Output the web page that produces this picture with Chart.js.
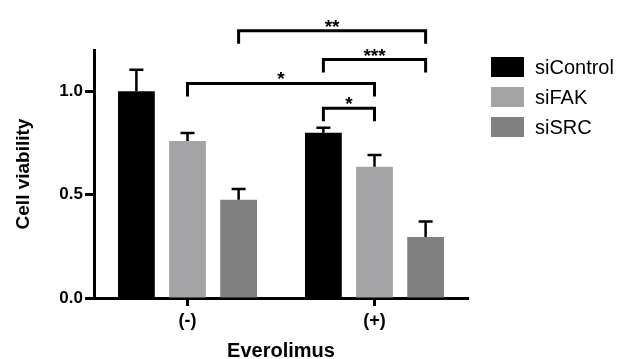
<!DOCTYPE html>
<html><head><meta charset="utf-8">
<script src="https://cdn.jsdelivr.net/npm/chart.js@4.4.1/dist/chart.umd.min.js"></script>
<style>html,body{margin:0;padding:0;background:#fff}#wrap{width:617px;height:359px;position:relative}</style>
</head><body><div id="wrap"><canvas id="c"></canvas></div>
<script>
// ---- data ----
const categories = ['(-)', '(+)'];
const seriesNames = ['siControl', 'siFAK', 'siSRC'];
const siControl = [1.00, 0.80];
const siFAK = [0.76, 0.635];
const siSRC = [0.475, 0.295];
const siControlErr = [0.105, 0.024];
const siFAKErr = [0.038, 0.057];
const siSRCErr = [0.053, 0.075];
const yTickValues = [0, 0.5, 1.0];
const xTitle = 'Everolimus';
const yTitle = 'Cell viability';
// significance brackets: [series, category] endpoints, level in data units
const bracketFrom = [[2, 0], [0, 1], [1, 0], [0, 1]];
const bracketTo = [[2, 1], [2, 1], [1, 1], [1, 1]];
const bracketLevel = [1.293, 1.154, 1.038, 0.918];
const bracketLabel = ['**', '***', '*', '*'];

// ---- styles ----
const colors = ['#000000', '#a4a4a7', '#808080'];
const errs = [siControlErr, siFAKErr, siSRCErr];
const FONT = "'Liberation Sans', Arial, Helvetica, sans-serif";

const errorBarPlugin = {
  id: 'errorBars',
  afterDatasetsDraw(chart) {
    const ctx = chart.ctx, y = chart.scales.y;
    ctx.save();
    ctx.strokeStyle = '#000';
    ctx.lineWidth = 2.5;
    chart.data.datasets.forEach((ds, di) => {
      const meta = chart.getDatasetMeta(di);
      meta.data.forEach((bar, i) => {
        const top = y.getPixelForValue(ds.data[i] + errs[di][i]);
        const base = y.getPixelForValue(ds.data[i]);
        ctx.beginPath();
        ctx.moveTo(bar.x, base);
        ctx.lineTo(bar.x, top);
        ctx.moveTo(bar.x - 7, top);
        ctx.lineTo(bar.x + 7, top);
        ctx.stroke();
      });
    });
    ctx.restore();
  }
};

const bracketPlugin = {
  id: 'brackets',
  afterDraw(chart) {
    const ctx = chart.ctx, y = chart.scales.y;
    ctx.save();
    ctx.strokeStyle = '#000';
    ctx.fillStyle = '#000';
    ctx.lineWidth = 3;
    ctx.lineJoin = 'miter';
    ctx.font = 'bold 19px ' + FONT;
    ctx.textAlign = 'center';
    ctx.textBaseline = 'alphabetic';
    bracketLevel.forEach((lv, k) => {
      const a = chart.getDatasetMeta(bracketFrom[k][0]).data[bracketFrom[k][1]];
      const b = chart.getDatasetMeta(bracketTo[k][0]).data[bracketTo[k][1]];
      const py = y.getPixelForValue(lv);
      ctx.beginPath();
      ctx.moveTo(a.x, py + 13);
      ctx.lineTo(a.x, py);
      ctx.lineTo(b.x, py);
      ctx.lineTo(b.x, py + 13);
      ctx.stroke();
      ctx.fillText(bracketLabel[k], (a.x + b.x) / 2, py + 2);
    });
    ctx.restore();
  }
};

const legendPlugin = {
  id: 'customLegend',
  afterDraw(chart) {
    const ctx = chart.ctx;
    ctx.save();
    ctx.font = '20px ' + FONT;
    ctx.textAlign = 'left';
    ctx.textBaseline = 'middle';
    chart.data.datasets.forEach((ds, i) => {
      const top = 57 + i * 30;
      ctx.fillStyle = ds.backgroundColor;
      ctx.fillRect(491, top, 33, 20);
      ctx.fillStyle = '#000';
      ctx.fillText(ds.label, 535, top + 11);
    });
    ctx.restore();
  }
};

new Chart(document.getElementById('c'), {
  type: 'bar',
  data: {
    labels: categories,
    datasets: [siControl, siFAK, siSRC].map((d, i) => ({
      label: seriesNames[i],
      data: d,
      backgroundColor: colors[i],
      borderWidth: 0,
      barPercentage: 0.72,
      categoryPercentage: 0.82
    }))
  },
  options: {
    responsive: true,
    maintainAspectRatio: false,
    animation: false,
    layout: { padding: { top: 50, right: 149, left: 0, bottom: 0 } },
    plugins: { legend: { display: false }, tooltip: { enabled: false } },
    scales: {
      x: {
        afterFit(s) { s.height = 61; },
        grid: { display: true, drawOnChartArea: false, offset: false, tickLength: 8, tickWidth: 3, tickColor: '#000' },
        border: { display: true, color: '#000', width: 3 },
        ticks: { color: '#000', font: { family: FONT, size: 18, weight: 'bold' }, padding: 4 },
        title: { display: true, text: xTitle, color: '#000', font: { family: FONT, size: 20, weight: 'bold' }, padding: { top: 0, bottom: -4 } }
      },
      y: {
        min: 0, max: 1.2,
        afterFit(s) { s.width = 94; },
        afterBuildTicks(s) { s.ticks = yTickValues.map(v => ({ value: v })); },
        grid: { display: true, drawOnChartArea: false, tickLength: 9, tickWidth: 3, tickColor: '#000' },
        border: { display: true, color: '#000', width: 3 },
        ticks: { color: '#000', font: { family: FONT, size: 17, weight: 'bold' }, padding: 2, callback: v => Number(v).toFixed(1) },
        title: { display: true, text: yTitle, color: '#000', font: { family: FONT, size: 19, weight: 'bold' }, padding: { top: 12, bottom: 0 } }
      }
    }
  },
  plugins: [errorBarPlugin, bracketPlugin, legendPlugin]
});
</script>
</body></html>
